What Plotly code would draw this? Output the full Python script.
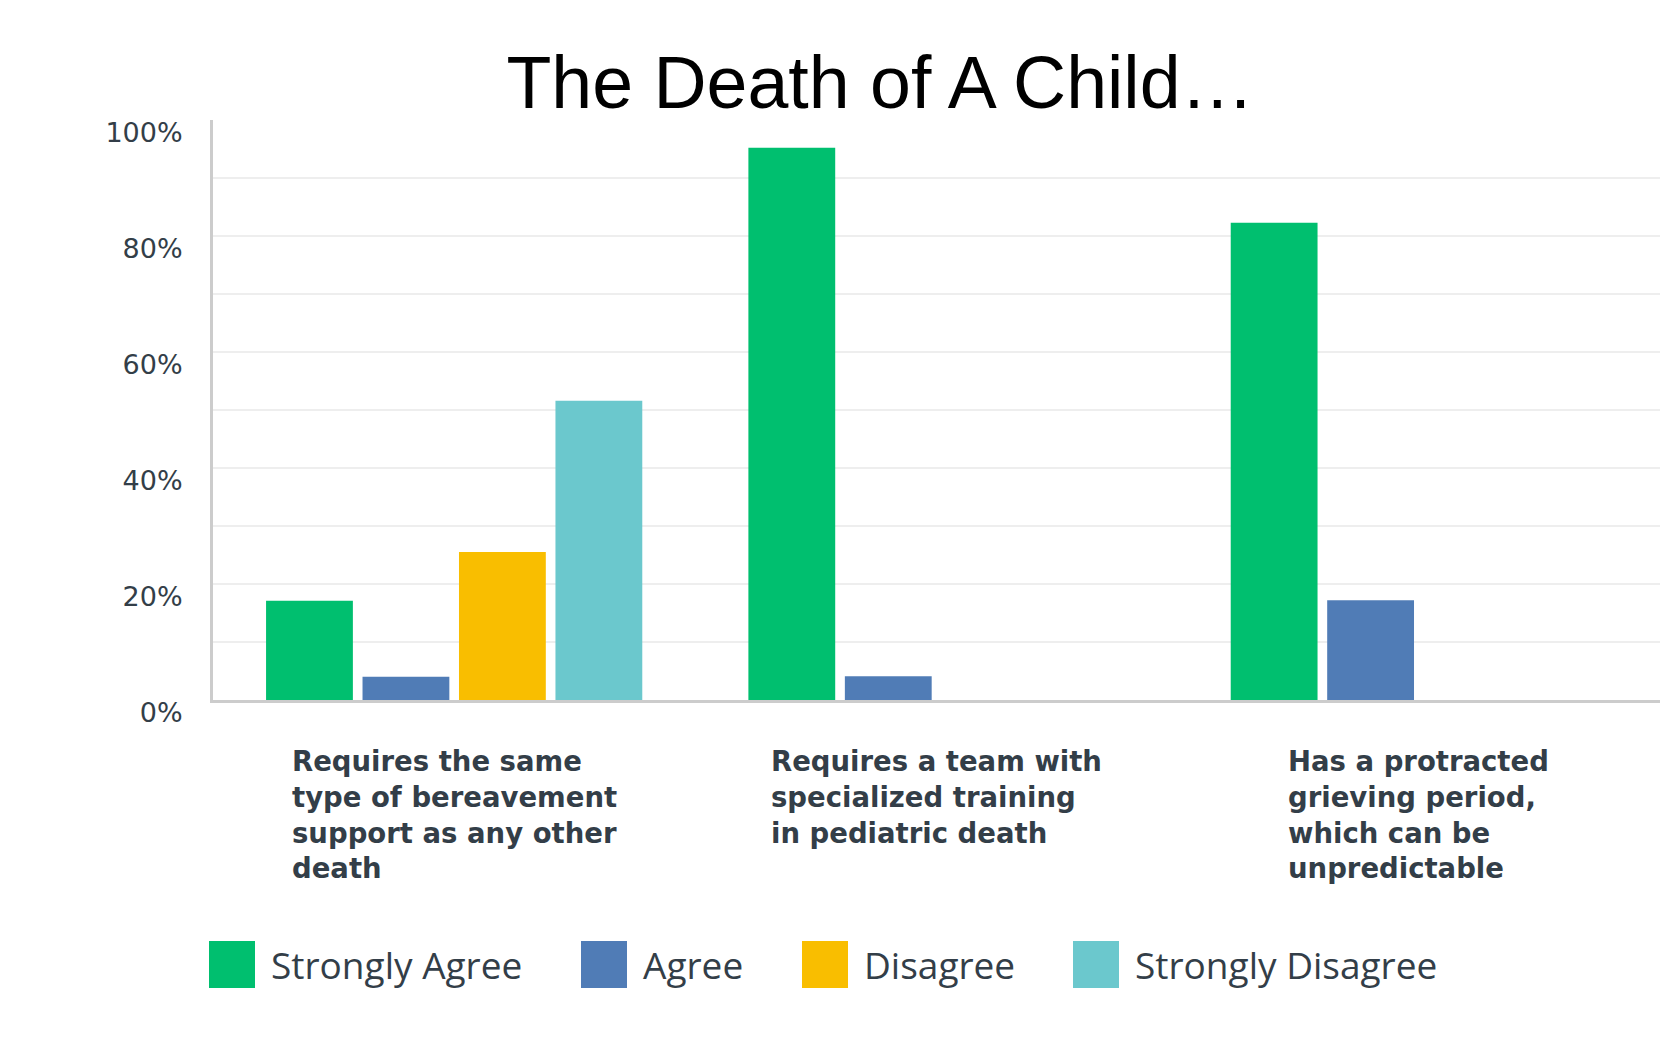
import plotly.graph_objects as go

# ---------------- data ----------------
categories = [
    "Requires the same type of bereavement support as any other death",
    "Requires a team with specialized training in pediatric death",
    "Has a protracted grieving period, which can be unpredictable",
]
category_labels = [
    "Requires the same<br>type of bereavement<br>support as any other<br>death",
    "Requires a team with<br>specialized training<br>in pediatric death",
    "Has a protracted<br>grieving period,<br>which can be<br>unpredictable",
]
series_names = ["Strongly Agree", "Agree", "Disagree", "Strongly Disagree"]
strongly_agree = [17.1, 95.2, 82.3]
agree = [4.0, 4.1, 17.2]
disagree = [25.5, 0, 0]
strongly_disagree = [51.6, 0, 0]
y_tick_values = [0, 20, 40, 60, 80, 100]
y_tick_labels = ["0%", "20%", "40%", "60%", "80%", "100%"]
title_text = "The Death of A Child…"

# ---------------- styles ----------------
colors = ["#00bf6f", "#507cb6", "#f9be00", "#6bc8cd"]
text_color = "#333e48"
series_values = [strongly_agree, agree, disagree, strongly_disagree]

FIG_W, FIG_H = 1652, 1036
M_L, M_R, M_T, M_B = 205, 0, 112, 344

fig = go.Figure()
for name, vals, col in zip(series_names, series_values, colors):
    fig.add_trace(go.Bar(
        x=categories, y=vals, name=name,
        marker=dict(color=col, line=dict(width=0)),
        showlegend=False,
    ))

# category labels (left-aligned block, centred under each group)
annotations = []
for cat, lab in zip(categories, category_labels):
    annotations.append(dict(
        x=cat, y=0, xref="x", yref="y",
        text=lab, showarrow=False,
        xanchor="center", yanchor="top", align="left",
        yshift=-43,
        font=dict(family="DejaVu Sans", size=27.5, color=text_color, weight="bold"),
    ))

# custom legend (large swatches)
legend_x = [-4, 368, 589, 860]
shapes = []
for name, col, lx in zip(series_names, colors, legend_x):
    shapes.append(dict(
        type="rect", xref="paper", yref="paper",
        xsizemode="pixel", ysizemode="pixel",
        xanchor=0, yanchor=0,
        x0=lx, x1=lx + 46, y0=-288, y1=-241,
        fillcolor=col, line=dict(width=0), layer="above",
    ))
    annotations.append(dict(
        x=0, y=0, xref="paper", yref="paper",
        xshift=lx + 60, yshift=-264,
        text=name, showarrow=False,
        xanchor="left", yanchor="middle",
        font=dict(family="Open Sans", size=37, color=text_color),
    ))

fig.update_layout(
    width=FIG_W, height=FIG_H,
    margin=dict(l=M_L, r=M_R, t=M_T, b=M_B, pad=0),
    paper_bgcolor="white", plot_bgcolor="white",
    barmode="group", bargap=0.2, bargroupgap=0.1,
    title=dict(
        text=title_text, x=0.528, xref="container", xanchor="center",
        y=0.928, yref="container", yanchor="middle",
        font=dict(family="Liberation Sans", size=73.5, color="black"),
    ),
    xaxis=dict(
        showticklabels=False, ticks="", showgrid=False,
        showline=True, linecolor="#cccccc", linewidth=3,
        zeroline=False,
    ),
    yaxis=dict(
        range=[0, 100], tickmode="array",
        tickvals=y_tick_values, ticktext=y_tick_labels,
        ticks="", ticklabelstandoff=22, ticklabelshift=13,
        tickfont=dict(family="DejaVu Sans", size=27, color=text_color),
        showgrid=True, gridcolor="#eeeeee", gridwidth=2,
        minor=dict(dtick=10, showgrid=True, gridcolor="#eeeeee", gridwidth=2),
        showline=True, linecolor="#cccccc", linewidth=3,
        zeroline=False,
    ),
    annotations=annotations,
    shapes=shapes,
)

fig.write_html("out.html")
